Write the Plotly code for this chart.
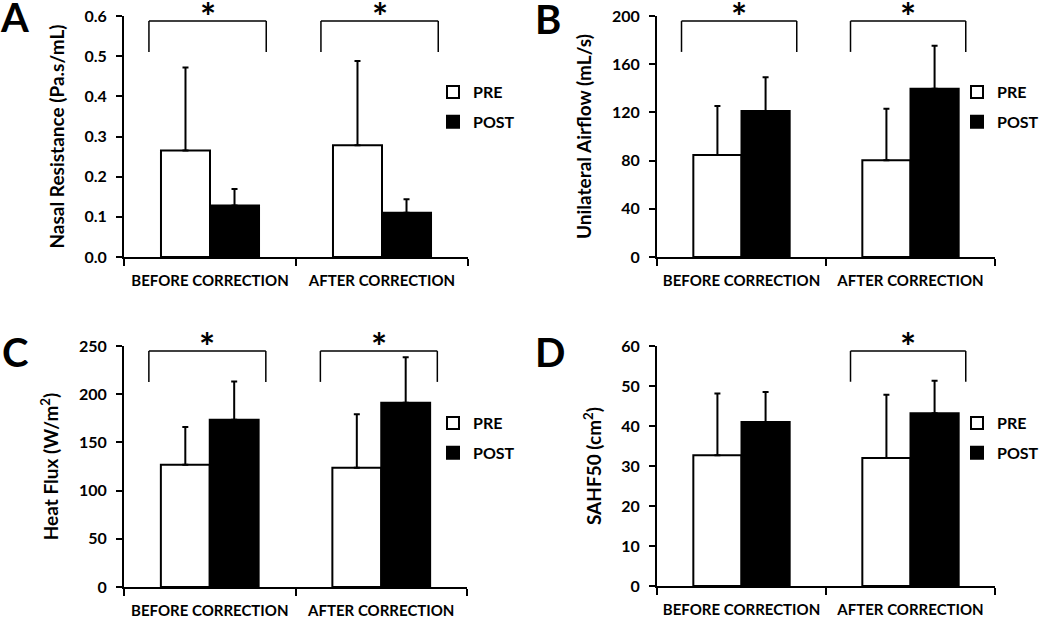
import plotly.graph_objects as go

categories = ["BEFORE CORRECTION", "AFTER CORRECTION"]
series_names = ["PRE", "POST"]

# Panel A: Nasal Resistance
A_pre = [0.265, 0.278]
A_pre_err = [0.207, 0.210]
A_post = [0.128, 0.110]
A_post_err = [0.041, 0.034]
A_sig = [True, True]

# Panel B: Unilateral Airflow
B_pre = [84.6, 80.2]
B_pre_err = [40.7, 42.9]
B_post = [121.2, 139.7]
B_post_err = [27.9, 35.7]
B_sig = [True, True]

# Panel C: Heat Flux
C_pre = [126.7, 123.6]
C_pre_err = [39.2, 55.5]
C_post = [173.5, 191.1]
C_post_err = [39.8, 47.2]
C_sig = [True, True]

# Panel D: SAHF50
D_pre = [32.7, 32.0]
D_pre_err = [15.4, 15.8]
D_post = [41.0, 43.2]
D_post_err = [7.5, 8.1]
D_sig = [False, True]

panel_letters = ["A", "B", "C", "D"]
y_titles = ["Nasal Resistance (Pa.s/mL)", "Unilateral Airflow (mL/s)",
            "Heat Flux (W/m<sup>2</sup>)", "SAHF50 (cm<sup>2</sup>)"]
y_ranges = [[0, 0.6], [0, 200], [0, 250], [0, 60]]
y_dticks = [0.1, 40, 50, 10]
y_formats = [".1f", "d", "d", "d"]

FONT = "Lato"
W, H = 1050, 618

panels = [
    (A_pre, A_pre_err, A_post, A_post_err, A_sig),
    (B_pre, B_pre_err, B_post, B_post_err, B_sig),
    (C_pre, C_pre_err, C_post, C_post_err, C_sig),
    (D_pre, D_pre_err, D_post, D_post_err, D_sig),
]

# pixel layout of plot areas (left, right, top, bottom)
areas = [(124, 468, 16, 257), (657, 995, 16, 257),
         (124, 467, 346, 587), (657, 995, 346, 586)]
legend_pos = [(433, 75), (957, 75), (433, 406), (957, 406)]
letter_pos = [(14, 17), (548, 19), (15, 352), (550, 352)]

fig = go.Figure()
layout = dict(
    width=W, height=H, margin=dict(l=0, r=0, t=0, b=0, autoexpand=False),
    paper_bgcolor="white", plot_bgcolor="white",
    barmode="group", bargap=0.43, bargroupgap=0,
    font=dict(family=FONT, size=14, color="black", weight="bold"),
    shapes=[], annotations=[],
)

for i, (pre, pre_e, post, post_e, sig) in enumerate(panels):
    n = i + 1
    xa = "x" if n == 1 else f"x{n}"
    ya = "y" if n == 1 else f"y{n}"
    lg = "legend" if n == 1 else f"legend{n}"
    for name, vals, errs, fill in [("PRE", pre, pre_e, "white"), ("POST", post, post_e, "black")]:
        fig.add_trace(go.Bar(
            x=categories, y=vals, name=name, xaxis=xa, yaxis=ya,
            marker=dict(color=fill, line=dict(color="black", width=2)),
            error_y=dict(type="data", array=errs, arrayminus=[0] * len(errs),
                         symmetric=False, color="black", thickness=2, width=3),
            legend=lg, legendgroup=f"{lg}_{name}", showlegend=True,
        ))
    l, r, t, b = areas[i]
    layout[f"xaxis{'' if n == 1 else n}"] = dict(
        domain=[l / W, r / W], anchor=ya, type="category",
        range=[-0.5, len(categories) - 0.5], automargin=False, tickangle=0,
        showline=True, linecolor="black", linewidth=2,
        ticks="outside", tickson="boundaries", ticklen=7, tickwidth=2, tickcolor="black",
        tickfont=dict(family=FONT, size=15, weight="bold"), ticklabelstandoff=9,
        ticklabeloverflow="allow",
        showgrid=False, zeroline=False, fixedrange=True,
    )
    layout[f"yaxis{'' if n == 1 else n}"] = dict(
        domain=[1 - b / H, 1 - t / H], anchor=xa, automargin=False,
        range=y_ranges[i], dtick=y_dticks[i], tickformat=y_formats[i],
        showline=True, linecolor="black", linewidth=2,
        ticks="outside", ticklen=6, tickwidth=2, tickcolor="black",
        tickfont=dict(family=FONT, size=16, weight="bold"), ticklabelstandoff=6,
        ticklabeloverflow="allow",
        showgrid=False, zeroline=False, fixedrange=True,
        title=dict(text=y_titles[i], font=dict(family=FONT, size=19, weight="bold"), standoff=15),
    )
    lx, ly = legend_pos[i]
    layout[lg] = dict(
        x=lx / W, y=1 - ly / H, xanchor="left", yanchor="top",
        font=dict(family=FONT, size=16, weight="bold"),
        bgcolor="rgba(0,0,0,0)", tracegroupgap=6, traceorder="grouped",
    )
    # significance brackets
    for j, s in enumerate(sig):
        if not s:
            continue
        xl, xr = j - 0.355, j + 0.327
        ytop, ybot = 0.979, 0.851
        for (x0, y0, x1, y1) in [(xl, ybot, xl, ytop), (xl, ytop, xr, ytop), (xr, ytop, xr, ybot)]:
            layout["shapes"].append(dict(
                type="line", xref=xa, yref=f"{ya} domain",
                x0=x0, y0=y0, x1=x1, y1=y1, line=dict(color="black", width=1.5)))
        layout["annotations"].append(dict(
            text="*", xref=xa, yref=f"{ya} domain", x=(xl + xr) / 2, y=ytop,
            xanchor="center", yanchor="middle", yshift=5, showarrow=False,
            font=dict(family=FONT, size=38, weight="bold", color="black")))
    px, py = letter_pos[i]
    layout["annotations"].append(dict(
        text=panel_letters[i], xref="paper", yref="paper",
        x=px / W, y=1 - py / H,
        xanchor="center", yanchor="middle", showarrow=False,
        font=dict(family=FONT, size=40, weight="bold", color="black")))

fig.update_layout(**layout)
fig.write_html("out.html", config={"displayModeBar": False},
               post_script="document.body.style.margin='0';")
